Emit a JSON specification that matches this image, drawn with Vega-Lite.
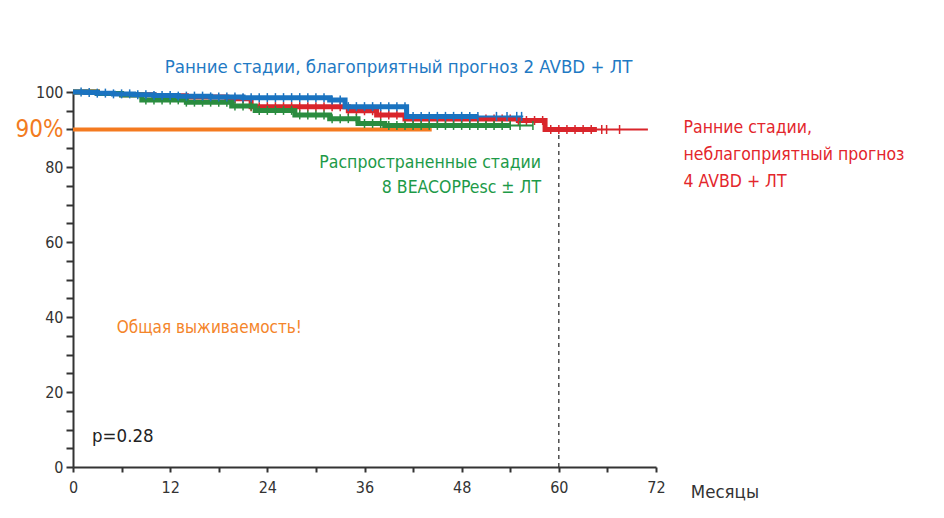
{
  "$schema": "https://vega.github.io/schema/vega-lite/v6.json",
  "width": 583,
  "height": 375,
  "autosize": {"type": "none"},
  "padding": {"left": 73, "top": 92, "right": 288, "bottom": 51},
  "background": "white",
  "config": {
    "view": {"stroke": null},
    "font": "DejaVu Sans Condensed, Liberation Sans Narrow, Roboto Condensed, Roboto, sans-serif",
    "text": {"font": "DejaVu Sans Condensed, Liberation Sans Narrow, Roboto Condensed, Roboto, sans-serif"}
  },
  "datasets": {
    "curves": [
      {"g": "red", "t": 0, "s": 100}, {"g": "red", "t": 3, "s": 99.6}, {"g": "red", "t": 6, "s": 99.3}, {"g": "red", "t": 10, "s": 99.0}, {"g": "red", "t": 14, "s": 98.7}, {"g": "red", "t": 19, "s": 98.2}, {"g": "red", "t": 22, "s": 96.1}, {"g": "red", "t": 34, "s": 95.0}, {"g": "red", "t": 37.5, "s": 93.9}, {"g": "red", "t": 41, "s": 92.8}, {"g": "red", "t": 55, "s": 92.4}, {"g": "red", "t": 58.3, "s": 90.0}, {"g": "red", "t": 64.7, "s": 90.0}, {"g": "red", "t": 71, "s": 90.0},
      {"g": "green", "t": 0, "s": 100}, {"g": "green", "t": 3, "s": 99.6}, {"g": "green", "t": 6, "s": 99.2}, {"g": "green", "t": 8.5, "s": 97.9}, {"g": "green", "t": 14, "s": 97.3}, {"g": "green", "t": 19.6, "s": 96.3}, {"g": "green", "t": 22.5, "s": 95.1}, {"g": "green", "t": 27.4, "s": 93.9}, {"g": "green", "t": 31.7, "s": 92.9}, {"g": "green", "t": 35.2, "s": 91.6}, {"g": "green", "t": 38.5, "s": 91.1}, {"g": "green", "t": 54, "s": 91.1}, {"g": "green", "t": 56.8, "s": 91.1},
      {"g": "blue", "t": 0, "s": 100}, {"g": "blue", "t": 1.5, "s": 99.9}, {"g": "blue", "t": 3, "s": 99.7}, {"g": "blue", "t": 5, "s": 99.5}, {"g": "blue", "t": 7.5, "s": 99.3}, {"g": "blue", "t": 10, "s": 99.1}, {"g": "blue", "t": 13, "s": 98.9}, {"g": "blue", "t": 17, "s": 98.7}, {"g": "blue", "t": 21, "s": 98.5}, {"g": "blue", "t": 31.7, "s": 97.9}, {"g": "blue", "t": 33.6, "s": 96.1}, {"g": "blue", "t": 41.2, "s": 93.5}, {"g": "blue", "t": 50, "s": 93.5}, {"g": "blue", "t": 55.6, "s": 93.5}
    ],
    "censors": [
      {"g": "red", "t": 20, "s": 98.2}, {"g": "red", "t": 21, "s": 98.2}, {"g": "red", "t": 22, "s": 96.1}, {"g": "red", "t": 23, "s": 96.1}, {"g": "red", "t": 24, "s": 96.1}, {"g": "red", "t": 25, "s": 96.1}, {"g": "red", "t": 26, "s": 96.1}, {"g": "red", "t": 27, "s": 96.1}, {"g": "red", "t": 28, "s": 96.1}, {"g": "red", "t": 29, "s": 96.1}, {"g": "red", "t": 30, "s": 96.1}, {"g": "red", "t": 31, "s": 96.1}, {"g": "red", "t": 32, "s": 96.1}, {"g": "red", "t": 33, "s": 96.1}, {"g": "red", "t": 34, "s": 95.0}, {"g": "red", "t": 35, "s": 95.0}, {"g": "red", "t": 36, "s": 95.0}, {"g": "red", "t": 37, "s": 95.0}, {"g": "red", "t": 38, "s": 93.9}, {"g": "red", "t": 39, "s": 93.9}, {"g": "red", "t": 40, "s": 93.9}, {"g": "red", "t": 41, "s": 92.8}, {"g": "red", "t": 42, "s": 92.8}, {"g": "red", "t": 43, "s": 92.8}, {"g": "red", "t": 44, "s": 92.8}, {"g": "red", "t": 45, "s": 92.8}, {"g": "red", "t": 46, "s": 92.8}, {"g": "red", "t": 47, "s": 92.8}, {"g": "red", "t": 48, "s": 92.8}, {"g": "red", "t": 49, "s": 92.8}, {"g": "red", "t": 50, "s": 92.8}, {"g": "red", "t": 51, "s": 92.8}, {"g": "red", "t": 52, "s": 92.8}, {"g": "red", "t": 53, "s": 92.8}, {"g": "red", "t": 54, "s": 92.8}, {"g": "red", "t": 55, "s": 92.4}, {"g": "red", "t": 56, "s": 92.4}, {"g": "red", "t": 57, "s": 92.4}, {"g": "red", "t": 58, "s": 92.4}, {"g": "red", "t": 59, "s": 90.0}, {"g": "red", "t": 60, "s": 90.0}, {"g": "red", "t": 61, "s": 90.0}, {"g": "red", "t": 62, "s": 90.0}, {"g": "red", "t": 63, "s": 90.0}, {"g": "red", "t": 64, "s": 90.0}, {"g": "red", "t": 65.3, "s": 90.0}, {"g": "red", "t": 65.9, "s": 90.0}, {"g": "red", "t": 67.5, "s": 90.0},
      {"g": "green", "t": 9, "s": 97.9}, {"g": "green", "t": 10, "s": 97.9}, {"g": "green", "t": 11, "s": 97.9}, {"g": "green", "t": 12, "s": 97.9}, {"g": "green", "t": 13, "s": 97.9}, {"g": "green", "t": 14, "s": 97.3}, {"g": "green", "t": 15, "s": 97.3}, {"g": "green", "t": 16, "s": 97.3}, {"g": "green", "t": 17, "s": 97.3}, {"g": "green", "t": 18, "s": 97.3}, {"g": "green", "t": 19, "s": 97.3}, {"g": "green", "t": 20, "s": 96.3}, {"g": "green", "t": 21, "s": 96.3}, {"g": "green", "t": 22, "s": 96.3}, {"g": "green", "t": 23, "s": 95.1}, {"g": "green", "t": 24, "s": 95.1}, {"g": "green", "t": 25, "s": 95.1}, {"g": "green", "t": 26, "s": 95.1}, {"g": "green", "t": 27, "s": 95.1}, {"g": "green", "t": 28, "s": 93.9}, {"g": "green", "t": 29, "s": 93.9}, {"g": "green", "t": 30, "s": 93.9}, {"g": "green", "t": 31, "s": 93.9}, {"g": "green", "t": 32, "s": 92.9}, {"g": "green", "t": 33, "s": 92.9}, {"g": "green", "t": 34, "s": 92.9}, {"g": "green", "t": 35, "s": 92.9}, {"g": "green", "t": 36, "s": 91.6}, {"g": "green", "t": 37, "s": 91.6}, {"g": "green", "t": 38, "s": 91.6}, {"g": "green", "t": 39, "s": 91.1}, {"g": "green", "t": 40, "s": 91.1}, {"g": "green", "t": 41, "s": 91.1}, {"g": "green", "t": 42, "s": 91.1}, {"g": "green", "t": 43, "s": 91.1}, {"g": "green", "t": 44, "s": 91.1}, {"g": "green", "t": 45, "s": 91.1}, {"g": "green", "t": 46, "s": 91.1}, {"g": "green", "t": 47, "s": 91.1}, {"g": "green", "t": 48, "s": 91.1}, {"g": "green", "t": 49, "s": 91.1}, {"g": "green", "t": 50, "s": 91.1}, {"g": "green", "t": 51, "s": 91.1}, {"g": "green", "t": 52, "s": 91.1}, {"g": "green", "t": 53, "s": 91.1}, {"g": "green", "t": 54, "s": 91.1}, {"g": "green", "t": 55.2, "s": 91.1}, {"g": "green", "t": 56.8, "s": 91.1},
      {"g": "blue", "t": 1, "s": 100}, {"g": "blue", "t": 2, "s": 99.9}, {"g": "blue", "t": 3, "s": 99.7}, {"g": "blue", "t": 4, "s": 99.7}, {"g": "blue", "t": 5, "s": 99.5}, {"g": "blue", "t": 6, "s": 99.5}, {"g": "blue", "t": 7, "s": 99.5}, {"g": "blue", "t": 8, "s": 99.3}, {"g": "blue", "t": 9, "s": 99.3}, {"g": "blue", "t": 10, "s": 99.1}, {"g": "blue", "t": 11, "s": 99.1}, {"g": "blue", "t": 12, "s": 99.1}, {"g": "blue", "t": 13, "s": 98.9}, {"g": "blue", "t": 14, "s": 98.9}, {"g": "blue", "t": 15, "s": 98.9}, {"g": "blue", "t": 16, "s": 98.9}, {"g": "blue", "t": 17, "s": 98.7}, {"g": "blue", "t": 18, "s": 98.7}, {"g": "blue", "t": 19, "s": 98.7}, {"g": "blue", "t": 20, "s": 98.7}, {"g": "blue", "t": 21, "s": 98.5}, {"g": "blue", "t": 22, "s": 98.5}, {"g": "blue", "t": 23, "s": 98.5}, {"g": "blue", "t": 24, "s": 98.5}, {"g": "blue", "t": 25, "s": 98.5}, {"g": "blue", "t": 26, "s": 98.5}, {"g": "blue", "t": 27, "s": 98.5}, {"g": "blue", "t": 28, "s": 98.5}, {"g": "blue", "t": 29, "s": 98.5}, {"g": "blue", "t": 30, "s": 98.5}, {"g": "blue", "t": 31, "s": 98.5}, {"g": "blue", "t": 32, "s": 97.9}, {"g": "blue", "t": 33, "s": 97.9}, {"g": "blue", "t": 34, "s": 96.1}, {"g": "blue", "t": 35, "s": 96.1}, {"g": "blue", "t": 36, "s": 96.1}, {"g": "blue", "t": 37, "s": 96.1}, {"g": "blue", "t": 38, "s": 96.1}, {"g": "blue", "t": 39, "s": 96.1}, {"g": "blue", "t": 40, "s": 96.1}, {"g": "blue", "t": 41, "s": 96.1}, {"g": "blue", "t": 42, "s": 93.5}, {"g": "blue", "t": 43, "s": 93.5}, {"g": "blue", "t": 44, "s": 93.5}, {"g": "blue", "t": 45, "s": 93.5}, {"g": "blue", "t": 46, "s": 93.5}, {"g": "blue", "t": 47, "s": 93.5}, {"g": "blue", "t": 48, "s": 93.5}, {"g": "blue", "t": 49, "s": 93.5}, {"g": "blue", "t": 50, "s": 93.5}, {"g": "blue", "t": 52.3, "s": 93.5}, {"g": "blue", "t": 53.6, "s": 93.5}, {"g": "blue", "t": 54.8, "s": 93.5}, {"g": "blue", "t": 55.4, "s": 93.5}
    ],
    "ref90": [{"t": 0, "s": 90}, {"t": 44.3, "s": 90}]
  },
  "layer": [
    {
      "encoding": {
        "x": {
          "field": "t", "type": "quantitative",
          "scale": {"domain": [0, 72], "nice": false, "zero": false},
          "axis": {
            "values": [0, 6, 12, 18, 24, 30, 36, 42, 48, 54, 60, 66, 72],
            "labelExpr": "datum.value % 12 == 0 ? datum.label : ''",
            "title": null, "grid": false,
            "domainColor": "#333", "domainWidth": 2,
            "tickColor": "#333", "tickWidth": 2, "tickSize": 5,
            "labelFontSize": 16, "labelColor": "#333",
            "labelPadding": 7, "labelFlush": false
          }
        },
        "y": {
          "field": "s", "type": "quantitative",
          "scale": {"domain": [0, 100], "nice": false, "zero": false},
          "axis": {
            "values": [0, 5, 10, 15, 20, 25, 30, 35, 40, 45, 50, 55, 60, 65, 70, 75, 80, 85, 90, 95, 100],
            "labelExpr": "datum.value == 90 ? '90%' : (datum.value % 20 == 0 ? datum.label : '')",
            "title": null, "grid": false,
            "domainColor": "#333", "domainWidth": 2,
            "tickColor": "#333", "tickWidth": 2, "tickSize": 7,
            "labelFontSize": {"condition": {"test": "datum.value == 90", "value": 24}, "value": 16},
            "labelColor": {"condition": {"test": "datum.value == 90", "value": "#f27b21"}, "value": "#333"},
            "labelPadding": 3
          }
        }
      },
      "layer": [
        {"data": {"name": "ref90"}, "mark": {"type": "line", "color": "#f47a20", "strokeWidth": 4}},
        {"data": {"name": "curves"}, "transform": [{"filter": "datum.g == 'red'"}], "mark": {"type": "line", "interpolate": "step-after", "color": "#d9252b", "strokeWidth": 2}},
        {"data": {"name": "curves"}, "transform": [{"filter": "datum.g == 'red' && datum.t <= 64.7"}], "mark": {"type": "line", "interpolate": "step-after", "color": "#d9252b", "strokeWidth": 5}},
        {"data": {"name": "censors"}, "transform": [{"filter": "datum.g == 'red'"}], "mark": {"type": "tick", "orient": "vertical", "color": "#d9252b", "size": 9, "thickness": 1.5, "opacity": 1}},
        {"data": {"name": "curves"}, "transform": [{"filter": "datum.g == 'green'"}], "mark": {"type": "line", "interpolate": "step-after", "color": "#2a8c3f", "strokeWidth": 2}},
        {"data": {"name": "curves"}, "transform": [{"filter": "datum.g == 'green' && datum.t <= 54"}], "mark": {"type": "line", "interpolate": "step-after", "color": "#2a8c3f", "strokeWidth": 5}},
        {"data": {"name": "censors"}, "transform": [{"filter": "datum.g == 'green'"}], "mark": {"type": "tick", "orient": "vertical", "color": "#2a8c3f", "size": 9, "thickness": 1.5, "opacity": 1}},
        {"data": {"name": "curves"}, "transform": [{"filter": "datum.g == 'blue'"}], "mark": {"type": "line", "interpolate": "step-after", "color": "#1a73c0", "strokeWidth": 2}},
        {"data": {"name": "curves"}, "transform": [{"filter": "datum.g == 'blue' && datum.t <= 50"}], "mark": {"type": "line", "interpolate": "step-after", "color": "#1a73c0", "strokeWidth": 5}},
        {"data": {"name": "censors"}, "transform": [{"filter": "datum.g == 'blue'"}], "mark": {"type": "tick", "orient": "vertical", "color": "#1a73c0", "size": 9, "thickness": 1.5, "opacity": 1}}
      ]
    },
    {
      "data": {"values": [{"k": 1}]},
      "encoding": {
        "x": {
          "datum": 60, "type": "quantitative",
          "scale": {"domain": [0, 72], "nice": false, "zero": false},
          "axis": {
            "values": [0, 6, 12, 18, 24, 30, 36, 42, 48, 54, 60, 66, 72],
            "labelExpr": "datum.value % 12 == 0 ? datum.label : ''",
            "title": null, "grid": false,
            "domainColor": "#333", "domainWidth": 2,
            "tickColor": "#333", "tickWidth": 2, "tickSize": 5,
            "labelFontSize": 16, "labelColor": "#333",
            "labelPadding": 7, "labelFlush": false
          }
        },
        "y": {
          "datum": 0, "type": "quantitative",
          "scale": {"domain": [0, 100], "nice": false, "zero": false},
          "axis": {
            "values": [0, 5, 10, 15, 20, 25, 30, 35, 40, 45, 50, 55, 60, 65, 70, 75, 80, 85, 90, 95, 100],
            "labelExpr": "datum.value == 90 ? '90%' : (datum.value % 20 == 0 ? datum.label : '')",
            "title": null, "grid": false,
            "domainColor": "#333", "domainWidth": 2,
            "tickColor": "#333", "tickWidth": 2, "tickSize": 7,
            "labelFontSize": {"condition": {"test": "datum.value == 90", "value": 24}, "value": 16},
            "labelColor": {"condition": {"test": "datum.value == 90", "value": "#f27b21"}, "value": "#333"},
            "labelPadding": 3
          }
        }
      },
      "layer": [
        {"mark": {"type": "rule", "color": "#222", "strokeWidth": 1.2, "strokeDash": [4, 4]},
         "encoding": {"y2": {"datum": 89.2}}},
        {"mark": {"type": "text", "align": "center", "baseline": "alphabetic", "fontSize": 18.5, "color": "#1f7ac4"},
         "encoding": {"x": {"datum": 40.2}, "y": {"datum": 105.2}, "text": {"value": "Ранние стадии, благоприятный прогноз 2 AVBD + ЛТ"}}},
        {"mark": {"type": "text", "align": "left", "baseline": "alphabetic", "fontSize": 17.5, "lineHeight": 27, "color": "#e3262c"},
         "encoding": {"x": {"datum": 75.4}, "y": {"datum": 89.2}, "text": {"value": ["Ранние стадии,", "неблагоприятный прогноз", "4 AVBD + ЛТ"]}}},
        {"mark": {"type": "text", "align": "right", "baseline": "alphabetic", "fontSize": 17.5, "lineHeight": 25, "color": "#1d9a48"},
         "encoding": {"x": {"datum": 57.8}, "y": {"datum": 79.8}, "text": {"value": ["Распространенные стадии", "8 BEACOPPesc ± ЛТ"]}}},
        {"mark": {"type": "text", "align": "left", "baseline": "alphabetic", "fontSize": 17, "color": "#f4852a"},
         "encoding": {"x": {"datum": 5.4}, "y": {"datum": 35.8}, "text": {"value": "Общая выживаемость!"}}},
        {"mark": {"type": "text", "align": "left", "baseline": "alphabetic", "fontSize": 18.5, "color": "#222"},
         "encoding": {"x": {"datum": 2.35}, "y": {"datum": 6.7}, "text": {"value": "p=0.28"}}},
        {"mark": {"type": "text", "align": "left", "baseline": "alphabetic", "fontSize": 18.5, "color": "#333"},
         "encoding": {"x": {"datum": 76.3}, "y": {"datum": -8.3}, "text": {"value": "Месяцы"}}}
      ]
    }
  ]
}
